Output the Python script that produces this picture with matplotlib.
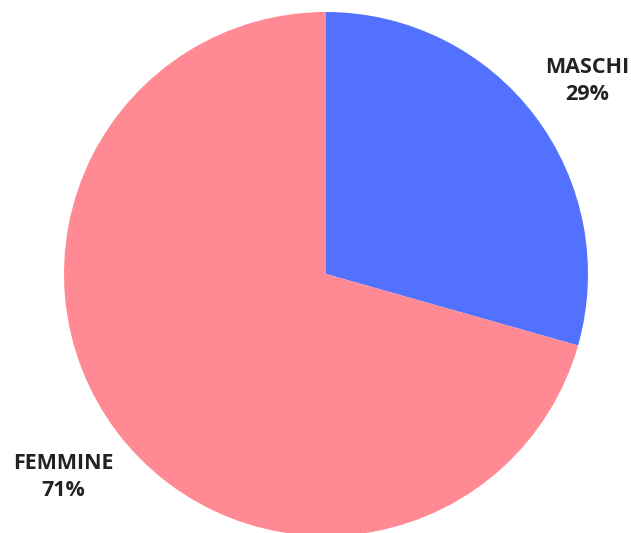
import matplotlib
matplotlib.use("Agg")
import matplotlib.pyplot as plt

categories = ["MASCHI", "FEMMINE"]
values = [29.4, 70.6]
colors = ["#5271FF", "#FF8A94"]

W, H = 631, 533
fig = plt.figure(figsize=(W / 100, H / 100), dpi=100)
ax = fig.add_axes([0, 0, 1, 1])
ax.set_xlim(0, W)
ax.set_ylim(0, H)
ax.axis("off")

cx, cy, r = 326, H - 274, 262
ax.pie(values, colors=colors, startangle=90, counterclock=False,
       center=(cx, cy), radius=r, frame=False,
       wedgeprops=dict(linewidth=0, antialiased=True))
ax.set_xlim(0, W)
ax.set_ylim(0, H)
ax.set_aspect("auto")

label_pos = [(587, H - 81), (63, H - 477)]
for cat, val, (x, y) in zip(categories, values, label_pos):
    ax.text(x, y, f"{cat}\n{round(val)}%", ha="center", va="center",
            fontsize=15.5, fontweight="bold", family=["Open Sans", "DejaVu Sans"],
            color="#222222", linespacing=1.4)

fig.savefig("out.png", dpi=100)
